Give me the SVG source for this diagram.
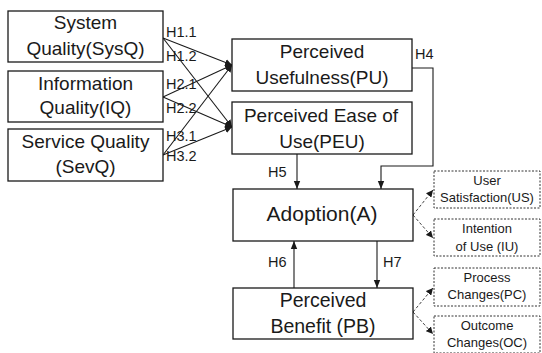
<svg xmlns="http://www.w3.org/2000/svg" width="542" height="353" viewBox="0 0 542 353">
<style>
.box{fill:#fff;stroke:#1a1a1a;stroke-width:1.3}
.dbox{fill:#fff;stroke:#333;stroke-width:1;stroke-dasharray:2 1.5}
.t{font-family:"Liberation Sans",Arial,sans-serif;font-size:19px;fill:#1a1a1a;text-anchor:middle}
.s{font-family:"Liberation Sans",Arial,sans-serif;font-size:13px;fill:#1a1a1a;text-anchor:middle}
.h{font-family:"Liberation Sans",Arial,sans-serif;font-size:14.5px;fill:#1a1a1a}
.c{fill:none;stroke:#1a1a1a;stroke-width:1.1}
.d{fill:none;stroke:#444;stroke-width:1;stroke-dasharray:3 2}
</style>
<defs>
<marker id="a" viewBox="0 0 10 10" refX="10" refY="5" markerWidth="7" markerHeight="7" orient="auto" markerUnits="userSpaceOnUse"><path d="M0,0 L10,5 L0,10 z" fill="#1a1a1a"/></marker>
<marker id="b" viewBox="0 0 10 10" refX="10" refY="5" markerWidth="8" markerHeight="8" orient="auto" markerUnits="userSpaceOnUse"><path d="M0,1 L10,5 L0,9 z" fill="#1a1a1a"/></marker>
</defs>
<g id="connectors">
<path class="c" d="M163,38 L232,65" marker-end="url(#a)"/>
<path class="c" d="M163,38 L232,127" marker-end="url(#a)"/>
<path class="c" d="M163,97 L232,65" marker-end="url(#a)"/>
<path class="c" d="M163,97 L232,127" marker-end="url(#a)"/>
<path class="c" d="M163,155 L232,65" marker-end="url(#a)"/>
<path class="c" d="M163,155 L232,127" marker-end="url(#a)"/>
<path class="c" d="M412,68 H433 V166 H381 V189" marker-end="url(#b)"/>
<path class="c" d="M297,154 V189" marker-end="url(#b)"/>
<path class="c" d="M294,288 V241" marker-end="url(#b)"/>
<path class="c" d="M377,241 V288" marker-end="url(#b)"/>
<path class="d" d="M413,215 L433,190" marker-end="url(#a)"/>
<path class="d" d="M413,215 L433,238" marker-end="url(#a)"/>
<path class="d" d="M413,312 L433,288" marker-end="url(#a)"/>
<path class="d" d="M413,312 L433,334" marker-end="url(#a)"/>
<text class="h" x="166" y="37">H1.1</text>
<text class="h" x="166" y="61">H1.2</text>
<text class="h" x="166" y="89">H2.1</text>
<text class="h" x="166" y="113">H2.2</text>
<text class="h" x="166" y="141">H3.1</text>
<text class="h" x="166" y="161">H3.2</text>
<text class="h" x="415" y="59">H4</text>
<text class="h" x="268" y="177">H5</text>
<text class="h" x="268" y="267">H6</text>
<text class="h" x="383" y="267">H7</text>
</g>
<g id="SysQ"><rect class="box" x="8" y="11" width="155" height="51"/><text class="t" x="85.5" y="29">System</text><text class="t" x="85.5" y="55">Quality(SysQ)</text></g>
<g id="IQ"><rect class="box" x="8" y="71" width="155" height="51"/><text class="t" x="85.5" y="90">Information</text><text class="t" x="85.5" y="114">Quality(IQ)</text></g>
<g id="SevQ"><rect class="box" x="8" y="129" width="155" height="52"/><text class="t" x="85.5" y="148">Service Quality</text><text class="t" x="85.5" y="173">(SevQ)</text></g>
<g id="PU"><rect class="box" x="232" y="39" width="180" height="52"/><text class="t" x="322" y="58">Perceived</text><text class="t" x="322" y="84">Usefulness(PU)</text></g>
<g id="PEU"><rect class="box" x="232" y="102" width="180" height="52"/><text class="t" x="321" y="122">Perceived Ease of</text><text class="t" x="322" y="148">Use(PEU)</text></g>
<g id="A"><rect class="box" x="233" y="189" width="180" height="52"/><text class="t" x="322" y="221" style="font-size:21px">Adoption(A)</text></g>
<g id="PB"><rect class="box" x="233" y="288" width="180" height="51"/><text class="t" x="323" y="307" style="font-size:19.5px">Perceived</text><text class="t" x="323" y="333" style="font-size:19.5px">Benefit (PB)</text></g>
<g id="US"><rect class="dbox" x="434" y="171" width="106" height="37"/><text class="s" x="487" y="185">User</text><text class="s" x="487" y="202">Satisfaction(US)</text></g>
<g id="IU"><rect class="dbox" x="434" y="219" width="106" height="37"/><text class="s" x="487" y="233">Intention</text><text class="s" x="487" y="251">of Use (IU)</text></g>
<g id="PC"><rect class="dbox" x="434" y="268" width="106" height="38"/><text class="s" x="487" y="282">Process</text><text class="s" x="487" y="299">Changes(PC)</text></g>
<g id="OC"><rect class="dbox" x="434" y="316" width="106" height="37"/><text class="s" x="487" y="330">Outcome</text><text class="s" x="487" y="347">Changes(OC)</text></g>
</svg>
